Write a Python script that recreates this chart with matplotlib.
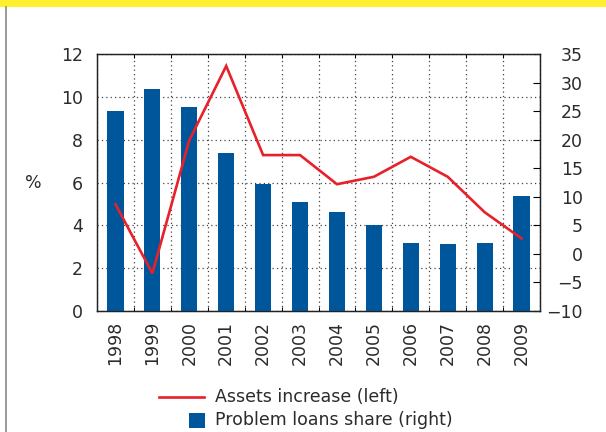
import matplotlib
matplotlib.use("Agg")
import matplotlib.pyplot as plt
import numpy as np
from matplotlib.lines import Line2D
from matplotlib.patches import Rectangle

plt.rcParams['font.family'] = ['DejaVu Sans']

years = ['1998', '1999', '2000', '2001', '2002', '2003', '2004', '2005',
         '2006', '2007', '2008', '2009']
problem_loans = [9.35, 10.37, 9.53, 7.38, 5.93, 5.09, 4.63, 4.02, 3.18, 3.13, 3.18, 5.37]
assets_increase = [8.7, -3.4, 19.9, 32.9, 17.3, 17.3, 12.2, 13.5, 17.0, 13.5, 7.3, 2.7]

left_ticks = [0, 2, 4, 6, 8, 10, 12]
right_ticks = [-10, -5, 0, 5, 10, 15, 20, 25, 30, 35]

BLUE = '#00569B'
RED = '#E8202A'
TXT = '#2b2b2b'
FS = 12.5

fig = plt.figure(figsize=(6.06, 4.32), dpi=100)
ax = fig.add_axes([97/606, 1-311/432, (540-97)/606, (311-54)/432])
ax2 = ax.twinx()

x = np.arange(len(years))
ax.bar(x, problem_loans, width=0.44, color=BLUE, zorder=3)
ax2.plot(x, assets_increase, color=RED, lw=1.9, zorder=4, solid_joinstyle='miter')

ax.set_xlim(-0.5, len(years) - 0.5)
ax.set_ylim(0, 12)
ax2.set_ylim(-10, 35)
ax.set_yticks(left_ticks)
ax2.set_yticks(right_ticks)
ax.set_yticklabels([str(v) for v in left_ticks])
ax2.set_yticklabels([str(v).replace('-', '\u2212') for v in right_ticks])

ax.set_xticks(x)
ax.set_xticklabels(years, rotation=90)
ax.set_xticks(np.arange(-0.5, len(years)), minor=True)

ax.grid(axis='y', which='major', linestyle=(0, (1, 2.5)), color='#444444', lw=0.9)
ax.grid(axis='x', which='minor', linestyle=(0, (1, 2.5)), color='#444444', lw=0.9)
ax.set_axisbelow(True)

ax.tick_params(axis='x', which='major', length=0, pad=7, labelsize=FS, labelcolor=TXT)
ax.tick_params(axis='x', which='minor', direction='in', length=3, top=True, bottom=True, width=0.7)
ax.tick_params(axis='y', which='major', direction='in', length=0, pad=10, labelsize=FS, labelcolor=TXT)
ax2.tick_params(axis='y', direction='in', length=5, width=0.8, pad=31, labelsize=FS, labelcolor=TXT)
for lab in ax2.get_yticklabels():
    lab.set_horizontalalignment('right')

for a in (ax, ax2):
    for s in a.spines.values():
        s.set_linewidth(0.9)
        s.set_color('#222222')

ax.set_ylabel('%', rotation=0, fontsize=FS, color=TXT, labelpad=20, va='center')

# decorations
fig.add_artist(Rectangle((0, 1-7/432), 1, 7/432, transform=fig.transFigure,
                         color='#FFEF2E', lw=0))
fig.add_artist(Line2D([6/606, 6/606], [0, 1-7/432], transform=fig.transFigure,
                      color='#888888', lw=1.2))

# legend
fig.add_artist(Line2D([159/606, 204/606], [1-397/432, 1-397/432],
                      transform=fig.transFigure, color=RED, lw=1.9))
fig.add_artist(Rectangle((189/606, 1-428/432), 16/606, 15/432,
                         transform=fig.transFigure, color=BLUE, lw=0))
fig.text(215/606, 1-397/432, 'Assets increase (left)', fontsize=FS, color=TXT,
         va='center', ha='left')
fig.text(215/606, 1-420/432, 'Problem loans share (right)', fontsize=FS, color=TXT,
         va='center', ha='left')

fig.savefig('out.png', dpi=100)
